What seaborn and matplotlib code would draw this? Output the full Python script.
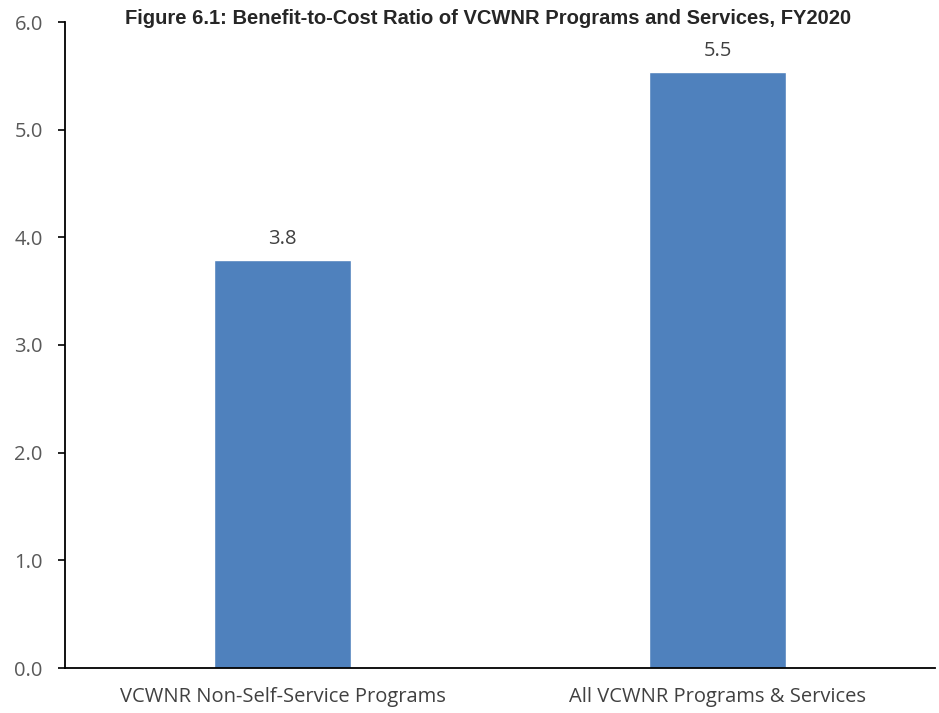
import matplotlib
matplotlib.use("Agg")
import matplotlib.pyplot as plt
import seaborn as sns
import pandas as pd

categories = ["VCWNR Non-Self-Service Programs", "All VCWNR Programs & Services"]
ratios = [3.79, 5.54]
bar_labels = ["3.8", "5.5"]
title = "Figure 6.1: Benefit-to-Cost Ratio of VCWNR Programs and Services, FY2020"

df = pd.DataFrame({"program": categories, "ratio": ratios})

sns.set_style("white")
plt.rcParams["font.family"] = ["Open Sans", "DejaVu Sans"]

fig = plt.figure(figsize=(9.39, 7.13), dpi=100)
ax = fig.add_axes([65 / 939, 45 / 713, 870 / 939, 646 / 713])

sns.barplot(data=df, x="program", y="ratio", color="#4F81BD", saturation=1,
            width=0.314, ax=ax)

for i, (v, lab) in enumerate(zip(ratios, bar_labels)):
    ax.text(i, v + 0.1, lab, ha="center", va="bottom", fontsize=14.5, color="#404040")

ax.set_ylim(0, 6)
ax.set_xlim(-0.5, 1.5)
ax.set_yticks([0, 1, 2, 3, 4, 5, 6])
ax.set_yticklabels([f"{t:.1f}" for t in range(7)])
ax.set_xlabel("")
ax.set_ylabel("")
ax.tick_params(axis="y", length=5, width=1.2, color="black", labelsize=14.5,
               labelcolor="#595959", direction="out", left=True, pad=11)
ax.tick_params(axis="x", length=0, labelsize=14.5, labelcolor="#404040", pad=14)

for s in ["top", "right"]:
    ax.spines[s].set_visible(False)
for s in ["left", "bottom"]:
    ax.spines[s].set_color("black")
    ax.spines[s].set_linewidth(1.3)

fig.text(488 / 939, 1 - 18 / 713, title, ha="center", va="center", fontsize=14.5,
         fontweight="bold", color="#262626", family=["Liberation Sans", "DejaVu Sans"])

fig.savefig("out.png", dpi=100)
